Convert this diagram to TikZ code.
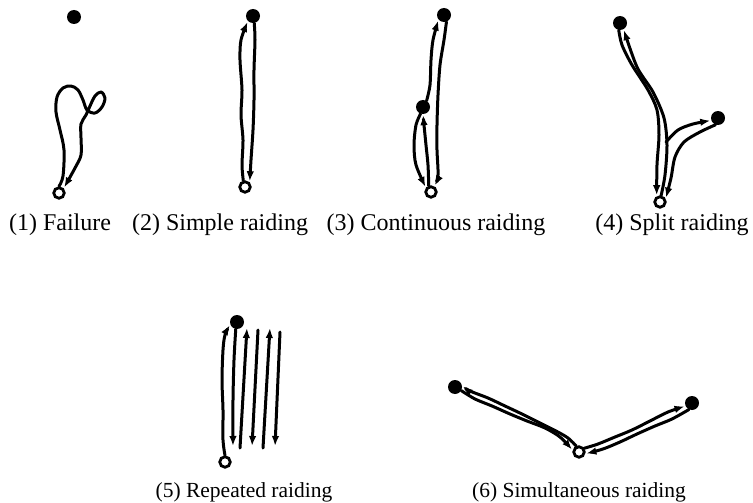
\documentclass[tikz,border=0pt]{standalone}
\usepackage{fontspec}
\setmainfont{Liberation Serif}
\usetikzlibrary{arrows.meta}

\tikzset{
  food/.style={circle,fill=black,inner sep=0pt,minimum size=14pt},
  nest/.style={circle,draw=black,fill=white,line width=2.8pt,inner sep=0pt,minimum size=10.5pt},
  trail/.style={line width=3pt,line cap=round,line join=round,
                -{Latex[length=10pt,width=7.5pt]},shorten >=1pt},
  caption/.style={anchor=base,font=\fontsize{24}{28}\selectfont},
  lowcaption/.style={anchor=base,font=\fontsize{21.5}{25}\selectfont}
}

\begin{document}
\begin{tikzpicture}[x=1pt,y=-1pt]
\useasboundingbox (0,0) rectangle (753,503);

% (1) failure
\node[food] (f1) at (74,17) {};
\node[nest] (n1) at (59,193) {};
\draw[trail] plot[smooth,tension=0.55] coordinates {(n1.north) (63,176) (64,150) (60,130)
   (56,112) (57,97) (63,88) (71,86) (78,90) (83,100) (87,110) (95,113) (102,107)
   (105,98) (101,92) (95,96) (90,106) (86,115) (81,124) (81,138) (81,155) (75,168) (n1.north east)};
\node[caption] (c1) at (60,230) {(1) Failure};

% (2) simple raiding
\node[food] (f2) at (253,16) {};
\node[nest] (n2) at (245,187) {};
\draw[trail] plot[smooth] coordinates {(n2.105) (242,165) (243,140) (241,115) (242,90)
   (240,60) (241,40) (f2.225)};
\draw[trail] plot[smooth] coordinates {(f2.280) (255,40) (254,70) (254,100) (253,130)
   (251,160) (n2.north east)};
\node[caption] (c2) at (220,230) {(2) Simple raiding};

% (3) continuous raiding
\node[food] (f3a) at (444,15) {};
\node[food] (f3b) at (423,107) {};
\node[nest] (n3) at (431,192) {};
\draw[trail] plot[smooth] coordinates {(f3b.250) (416,125) (414,145) (416,165) (n3.140)};
\draw[trail] plot[smooth] coordinates {(n3.110) (428,165) (426,145) (424,125) (f3b.south)};
\draw[trail] plot[smooth] coordinates {(f3b.60) (430,85) (431,60) (433,40) (f3a.220)};
\draw[trail] plot[smooth] coordinates {(f3a.290) (444,40) (440,65) (438,95) (437,125)
   (437,150) (438,175) (n3.60)};
\node[caption] (c3) at (436,230) {(3) Continuous raiding};

% (4) split raiding
\node[food] (f4a) at (620,23) {};
\node[food] (f4b) at (718,118) {};
\node[nest] (n4) at (660,202) {};
\coordinate (fork) at (666,142);
\draw[trail] plot[smooth] coordinates {(f4a.260) (622,45) (632,65) (648,90) (657,110)
   (659,135) (657,165) (n4.120)};
\draw[trail] plot[smooth] coordinates {(n4.80) (665,175) (667,145) (664,118) (653,92)
   (637,67) (f4a.300)};
\draw[trail] plot[smooth] coordinates {(fork) (678,130) (693,124) (f4b.200)};
\draw[trail] plot[smooth] coordinates {(f4b.250) (700,132) (684,142) (675,157) (671,178)
   (n4.30)};
\node[caption] (c4) at (672,230) {(4) Split raiding};

% (5) repeated raiding
\node[food] (f5) at (237,322) {};
\node[nest] (n5) at (225,462) {};
\coordinate (d1) at (233,447);
\coordinate (u1a) at (240,448); \coordinate (u1b) at (247,327);
\coordinate (d2a) at (258,330); \coordinate (d2b) at (252,447);
\coordinate (u2a) at (263,448); \coordinate (u2b) at (270,327);
\coordinate (d3a) at (280,332); \coordinate (d3b) at (275,447);
\draw[trail] plot[smooth] coordinates {(n5.north) (223,440) (223,410) (222,380) (223,350)
   (225,335) (f5.200)};
\draw[trail] plot[smooth] coordinates {(f5.260) (234,360) (233,400) (d1)};
\draw[trail] (u1a) -- (u1b);
\draw[trail] (d2a) -- (d2b);
\draw[trail] (u2a) -- (u2b);
\draw[trail] (d3a) -- (d3b);
\node[lowcaption] (c5) at (244,497) {(5) Repeated raiding};

% (6) simultaneous raiding
\node[food] (f6a) at (455,387) {};
\node[food] (f6b) at (692,403) {};
\node[nest] (n6) at (579,452) {};
\draw[trail] plot[smooth] coordinates {(n6.115) (568,438) (556,431) (540,423) (522,414)
   (505,406) (488,398) (470,391) (f6a.10)};
\draw[trail] plot[smooth] coordinates {(f6a.330) (475,399) (492,406) (510,414) (527,421)
   (545,428) (560,437) (n6.165)};
\draw[trail] plot[smooth] coordinates {(n6.35) (598,444) (615,437) (632,430) (650,421)
   (668,412) (f6b.205)};
\draw[trail] plot[smooth] coordinates {(f6b.245) (672,419) (655,426) (637,434) (620,442)
   (603,449) (n6.345)};
\node[lowcaption] (c6) at (579,497) {(6) Simultaneous raiding};
\end{tikzpicture}
\end{document}
